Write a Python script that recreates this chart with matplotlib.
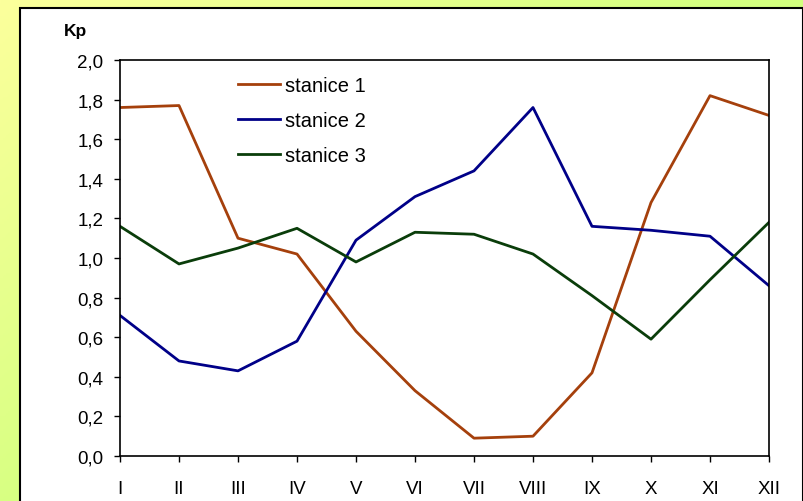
import numpy as np
import matplotlib
matplotlib.use("Agg")
import matplotlib.pyplot as plt
from matplotlib.patches import Rectangle
from matplotlib.colors import LinearSegmentedColormap
from matplotlib.ticker import FuncFormatter

plt.rcParams['font.family'] = ['Liberation Sans', 'DejaVu Sans']

# data
months = ["I", "II", "III", "IV", "V", "VI", "VII", "VIII", "IX", "X", "XI", "XII"]
stanice1 = [1.76, 1.77, 1.10, 1.02, 0.63, 0.33, 0.09, 0.10, 0.42, 1.28, 1.82, 1.72]
stanice2 = [0.71, 0.48, 0.43, 0.58, 1.09, 1.31, 1.44, 1.76, 1.16, 1.14, 1.11, 0.86]
stanice3 = [1.16, 0.97, 1.05, 1.15, 0.98, 1.13, 1.12, 1.02, 0.81, 0.59, 0.89, 1.18]
series_names = ["stanice 1", "stanice 2", "stanice 3"]
series_colors = ["#a5400c", "#000088", "#0a3d0a"]

W, H = 804, 502
fig = plt.figure(figsize=(W / 100, H / 100), dpi=100)

# gradient background: pale yellow top-left to light green bottom-right
bg = fig.add_axes([0, 0, 1, 1], zorder=0)
yy, xx = np.mgrid[0:1:200j, 0:1:300j]
grad = 0.55 * xx + 0.45 * yy
cmap = LinearSegmentedColormap.from_list("bg", ["#fcff9c", "#d4ff80", "#c6ff70"])
bg.imshow(grad, cmap=cmap, aspect="auto", extent=[0, 1, 1, 0])
bg.set_xlim(0, 1)
bg.set_ylim(1, 0)
bg.axis("off")

# white chart area with black border (runs off the bottom edge)
bg.add_patch(Rectangle((20 / W, 9 / H), 783 / W, 1.0, facecolor="white",
                       edgecolor="black", linewidth=1.5, transform=bg.transData,
                       clip_on=False))

ax = fig.add_axes([120 / W, (H - 457) / H, 649 / W, 396 / H], zorder=1)
ax.set_facecolor("white")
x = np.arange(len(months))
for vals, name, col in zip([stanice1, stanice2, stanice3], series_names, series_colors):
    ax.plot(x, vals, color=col, linewidth=2, label=name)

ax.set_xlim(0, len(months) - 1)
ax.set_ylim(0, 2.0)
ax.set_xticks(x)
ax.set_xticklabels(months)
ax.set_yticks(np.arange(0, 2.01, 0.2))
ax.yaxis.set_major_formatter(FuncFormatter(lambda v, p: f"{v:.1f}".replace(".", ",")))
ax.tick_params(axis="both", direction="out", length=4, width=1, labelsize=13.5, colors="black")
ax.tick_params(axis="x", pad=13)
ax.tick_params(axis="y", pad=8)
for s in ax.spines.values():
    s.set_linewidth(1.2)

fig.text(64 / W, 1 - 32 / H, "Kp", fontsize=12.5, fontweight="bold", va="center", ha="left")

ax.legend(loc="upper left", bbox_to_anchor=(0.16, 0.994), frameon=False, fontsize=14.5,
          handlelength=2.1, handletextpad=0.25, labelspacing=0.78,
          borderaxespad=0.3)

fig.savefig("out.png", dpi=100)
